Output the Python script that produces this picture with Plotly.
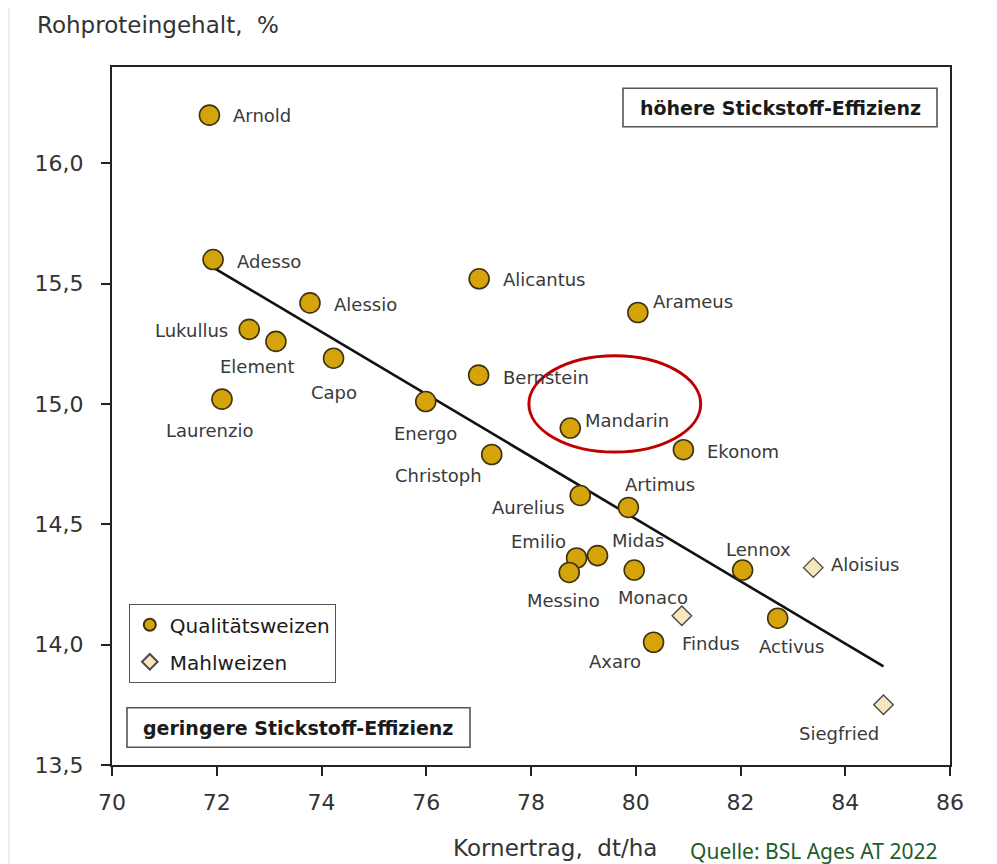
import plotly.graph_objects as go

# ---------------- data ----------------
quality_names = ["Arnold", "Adesso", "Alessio", "Lukullus", "Element", "Capo", "Laurenzio",
                 "Energo", "Alicantus", "Bernstein", "Arameus", "Mandarin", "Ekonom",
                 "Christoph", "Aurelius", "Artimus", "Emilio", "Midas", "Messino", "Monaco",
                 "Axaro", "Lennox", "Activus"]
quality_yield = [71.86, 71.93, 73.78, 72.62, 73.13, 74.23, 72.10, 75.99, 77.01, 77.00, 80.04,
                 78.75, 80.91, 77.25, 78.94, 79.86, 78.87, 79.27, 78.73, 79.97, 80.34, 82.04, 82.71]
quality_protein = [16.20, 15.60, 15.42, 15.31, 15.26, 15.19, 15.02, 15.01, 15.52, 15.12, 15.38,
                   14.90, 14.81, 14.79, 14.62, 14.57, 14.36, 14.37, 14.30, 14.31, 14.01, 14.31, 14.11]

milling_names = ["Findus", "Aloisius", "Siegfried"]
milling_yield = [80.88, 83.39, 84.73]
milling_protein = [14.12, 14.32, 13.75]

trend_yield = [71.91, 84.73]
trend_protein = [15.57, 13.91]

highlight_yield = [77.96, 81.24]      # red ellipse around Mandarin
highlight_protein = [14.80, 15.20]

x_tickvals = [70, 72, 74, 76, 78, 80, 82, 84, 86]
x_ticktext = ["70", "72", "74", "76", "78", "80", "82", "84", "86"]
y_tickvals = [13.5, 14.0, 14.5, 15.0, 15.5, 16.0]
y_ticktext = ["13,5", "14,0", "14,5", "15,0", "15,5", "16,0"]

# ---------------- label placement (anchor, dx px, dy px; dy positive = down) ----------------
label_pos = {
    "Arnold": ("left", 22, 0), "Adesso": ("left", 22, 2), "Alessio": ("left", 22, 2),
    "Lukullus": ("right", -19, 1), "Element": ("center", -18, 25), "Capo": ("center", 0, 34),
    "Laurenzio": ("center", -12, 31), "Energo": ("center", 0, 32), "Alicantus": ("left", 22, 1),
    "Arameus": ("left", 13, -11), "Bernstein": ("left", 22, 2), "Mandarin": ("left", 13, -8),
    "Ekonom": ("left", 22, 2), "Christoph": ("right", -8, 21), "Aurelius": ("right", -13, 12),
    "Artimus": ("left", -5, -23), "Emilio": ("right", -9, -17), "Midas": ("left", 12, -15),
    "Messino": ("center", -6, 28), "Monaco": ("center", 19, 27), "Findus": ("left", -2, 28),
    "Axaro": ("right", -11, 19), "Lennox": ("center", 16, -21), "Activus": ("center", 14, 28),
    "Aloisius": ("left", 16, -3), "Siegfried": ("center", -44, 29),
}

FONT = "DejaVu Sans"
OFF = 8                      # default page body margin
W, H = 989, 856
L, T = 112 - OFF, 67 - OFF
R = W - (950 - OFF)
B = H - (765 - OFF)
PW, PH = W - L - R, H - T - B


def px_x(p):
    """page pixel x -> paper coordinate"""
    return (p - OFF - L) / PW


def px_y(p):
    """page pixel y -> paper coordinate"""
    return (H - B - (p - OFF)) / PH


fig = go.Figure()

fig.add_trace(go.Scatter(
    x=trend_yield, y=trend_protein, mode="lines",
    line=dict(color="#111111", width=2.6), showlegend=False, hoverinfo="skip"))

fig.add_trace(go.Scatter(
    x=quality_yield, y=quality_protein, mode="markers", name="Qualitätsweizen",
    legendgroup="q", text=quality_names,
    marker=dict(symbol="circle", size=20, color="#D4A40A",
                line=dict(color="#3d3212", width=1.6))))

fig.add_trace(go.Scatter(
    x=milling_yield, y=milling_protein, mode="markers", name="Mahlweizen",
    legendgroup="m", text=milling_names,
    marker=dict(symbol="diamond", size=15, color="#F6E6BC",
                line=dict(color="#4a4a4a", width=1.4))))

annotations = []
for names, xs, ys in ((quality_names, quality_yield, quality_protein),
                      (milling_names, milling_yield, milling_protein)):
    for n, xv, yv in zip(names, xs, ys):
        anc, dx, dy = label_pos[n]
        annotations.append(dict(
            x=xv, y=yv, xref="x", yref="y", text=n, showarrow=False,
            xanchor=anc, yanchor="middle", xshift=dx, yshift=-dy,
            font=dict(family=FONT, size=18, color="#3a3a3a")))

# axis titles and source
annotations.append(dict(x=px_x(35), y=px_y(25), xref="paper", yref="paper",
                        text="Rohproteingehalt,  %", showarrow=False, xanchor="left",
                        yanchor="middle", font=dict(family=FONT, size=23, color="#333333")))
annotations.append(dict(x=px_x(555), y=px_y(848), xref="paper", yref="paper",
                        text="Kornertrag,  dt/ha", showarrow=False, xanchor="center",
                        yanchor="middle", font=dict(family=FONT, size=23, color="#333333")))
annotations.append(dict(x=px_x(688), y=px_y(851), xref="paper", yref="paper",
                        text="Quelle: BSL Ages AT 2022", showarrow=False, xanchor="left",
                        yanchor="middle", font=dict(family="Noto Sans", size=21, color="#1E5C2A")))

# boxed notes
annotations.append(dict(x=px_x(780), y=px_y(107.5), xref="paper", yref="paper",
                        text="<b>höhere Stickstoff-Effizienz</b>", showarrow=False,
                        xanchor="center", yanchor="middle",
                        font=dict(family=FONT, size=19, color="#1a1a1a")))
annotations.append(dict(x=px_x(298), y=px_y(728), xref="paper", yref="paper",
                        text="<b>geringere Stickstoff-Effizienz</b>", showarrow=False,
                        xanchor="center", yanchor="middle",
                        font=dict(family=FONT, size=19, color="#1a1a1a")))

shapes = [
    # page edge strip
    dict(type="rect", xref="paper", yref="paper", x0=px_x(OFF), x1=px_x(10),
         y0=px_y(H + OFF), y1=px_y(OFF), fillcolor="#F2EEE7", line=dict(width=0), layer="below"),
    # note boxes
    dict(type="rect", xref="paper", yref="paper", x0=px_x(623), x1=px_x(937),
         y0=px_y(126.7), y1=px_y(88.3), line=dict(color="#555555", width=1.6),
         fillcolor="white", layer="below"),
    dict(type="rect", xref="paper", yref="paper", x0=px_x(127), x1=px_x(470),
         y0=px_y(747.3), y1=px_y(707.7), line=dict(color="#555555", width=1.6),
         fillcolor="white", layer="below"),
    # highlight ellipse
    dict(type="circle", xref="x", yref="y", x0=highlight_yield[0], x1=highlight_yield[1],
         y0=highlight_protein[0], y1=highlight_protein[1],
         line=dict(color="#C00000", width=3)),
]

axis_common = dict(showgrid=False, zeroline=False, showline=True, linecolor="#222222",
                   linewidth=2, mirror=True, ticks="outside", ticklen=9, tickwidth=2,
                   tickcolor="#222222",
                   tickfont=dict(family=FONT, size=22, color="#333333"))

fig.update_layout(
    width=W, height=H,
    margin=dict(l=L, r=R, t=T, b=B, pad=0),
    paper_bgcolor="white", plot_bgcolor="white",
    xaxis=dict(range=[70, 86], tickvals=x_tickvals, ticktext=x_ticktext,
               ticklabelstandoff=8, **axis_common),
    yaxis=dict(range=[13.5, 16.4], tickvals=y_tickvals, ticktext=y_ticktext,
               ticklabelstandoff=13, **axis_common),
    legend=dict(x=px_x(128.5), y=px_y(604), xanchor="left", yanchor="top",
                bgcolor="white", bordercolor="#555555", borderwidth=1.3,
                font=dict(family=FONT, size=20, color="#1a1a1a"),
                itemsizing="constant", tracegroupgap=8, traceorder="grouped"),
    annotations=annotations,
    shapes=shapes,
)

fig.write_html("out.html")
